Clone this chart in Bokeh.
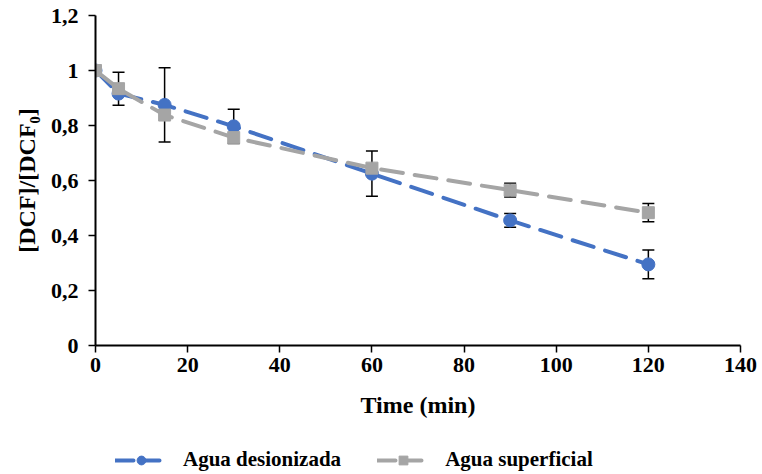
from bokeh.plotting import figure
from bokeh.layouts import column
from bokeh.models import Range1d, Whisker, TeeHead, ColumnDataSource, Legend, LegendItem, FixedTicker
from bokeh.embed import file_html
from bokeh.resources import INLINE

# Data
time = [0, 5, 15, 30, 60, 90, 120]
desionizada = [1.0, 0.916, 0.875, 0.797, 0.625, 0.455, 0.295]
err_desionizada = [0, 0, 0.135, 0.062, 0.082, 0.025, 0.052]
superficial = [1.0, 0.934, 0.838, 0.756, 0.645, 0.565, 0.483]
err_superficial = [0, 0.06, 0, 0, 0, 0.025, 0.033]

x_ticks = [0, 20, 40, 60, 80, 100, 120, 140]
y_ticks = [0, 0.2, 0.4, 0.6, 0.8, 1.0, 1.2]
y_tick_labels = ["0", "0,2", "0,4", "0,6", "0,8", "1", "1,2"]
series_names = ["Agua desionizada", "Agua superficial"]

BLUE = "#4472C4"
GRAY = "#A5A5A5"
FONT = "Liberation Serif"
LEG_H = 36

p = figure(width=762, height=474 - LEG_H, output_backend="svg", toolbar_location=None,
           x_range=Range1d(0, 140), y_range=Range1d(0, 1.2),
           min_border_left=95, min_border_right=22, min_border_top=15,
           min_border_bottom=474 - LEG_H - 345)
p.outline_line_color = None
p.xgrid.visible = False
p.ygrid.visible = False

for ax in (p.xaxis[0], p.yaxis[0]):
    ax.axis_line_width = 2
    ax.axis_line_color = "black"
    ax.major_tick_line_color = "black"
    ax.major_tick_line_width = 1.5
    ax.major_tick_in = 0
    ax.major_tick_out = 7
    ax.minor_tick_line_color = None
    ax.major_label_text_font = FONT
    ax.major_label_text_font_style = "bold"
    ax.major_label_text_font_size = "22px"
    ax.major_label_text_color = "black"
    ax.axis_label_text_font = FONT
    ax.axis_label_text_font_style = "bold"
    ax.axis_label_text_font_size = "24px"
    ax.axis_label_text_color = "black"

p.xaxis.ticker = FixedTicker(ticks=x_ticks)
p.yaxis.ticker = FixedTicker(ticks=y_ticks)
p.yaxis.major_label_overrides = {t: l for t, l in zip(y_ticks, y_tick_labels)}
p.xaxis.axis_label = "Time (min)"
p.yaxis.axis_label = "[DCF]/[DCF₀]"
p.xaxis.major_label_standoff = 5
p.yaxis.major_label_standoff = 10
p.xaxis.axis_label_standoff = 17
p.yaxis.axis_label_standoff = 8

# Error bars
def err_source(t, v, e):
    pts = [(ti, vi, ei) for ti, vi, ei in zip(t, v, e) if ei > 0]
    return ColumnDataSource(dict(x=[a for a, _, _ in pts],
                                 lower=[b - c for _, b, c in pts],
                                 upper=[b + c for _, b, c in pts]))

for src in (err_source(time, desionizada, err_desionizada),
            err_source(time, superficial, err_superficial)):
    w = Whisker(source=src, base="x", lower="lower", upper="upper",
                line_color="black", line_width=1.5, level="underlay",
                upper_head=TeeHead(size=12, line_color="black", line_width=1.5),
                lower_head=TeeHead(size=12, line_color="black", line_width=1.5))
    p.add_layout(w)

line_kw = dict(line_width=4, line_dash="22 12", line_cap="round")
p.line(time, desionizada, line_color=BLUE, **line_kw)
p.scatter(time, desionizada, marker="circle", size=13, fill_color=BLUE, line_color=BLUE)
p.line(time, superficial, line_color=GRAY, **line_kw)
p.scatter(time, superficial, marker="square", size=12, fill_color=GRAY, line_color=GRAY)

# Legend strip below the chart (same series drawn out of its view range)
lg = figure(width=762, height=LEG_H, output_backend="svg", toolbar_location=None,
            x_axis_location=None, y_axis_location=None,
            x_range=Range1d(1000, 1001), y_range=Range1d(1000, 1001),
            min_border=0)
lg.outline_line_color = None
lg.grid.visible = False
lkw = dict(line_width=4, line_dash="18 8", line_cap="round")
r1 = lg.line(time, desionizada, line_color=BLUE, **lkw)
s1 = lg.scatter(time, desionizada, marker="circle", size=13, fill_color=BLUE, line_color=BLUE)
r2 = lg.line(time, superficial, line_color=GRAY, **lkw)
s2 = lg.scatter(time, superficial, marker="square", size=12, fill_color=GRAY, line_color=GRAY)

legend = Legend(items=[LegendItem(label=series_names[0], renderers=[r1, s1]),
                       LegendItem(label=series_names[1], renderers=[r2, s2])],
                orientation="horizontal", location=(20, 2),
                border_line_color=None, background_fill_alpha=0,
                glyph_width=52, glyph_height=22, label_standoff=16, spacing=36,
                label_text_font=FONT, label_text_font_style="bold",
                label_text_font_size="21px", label_text_color="black",
                margin=0, padding=4)
lg.add_layout(legend)

open("out.html", "w").write(file_html(column(p, lg, spacing=0), INLINE))
